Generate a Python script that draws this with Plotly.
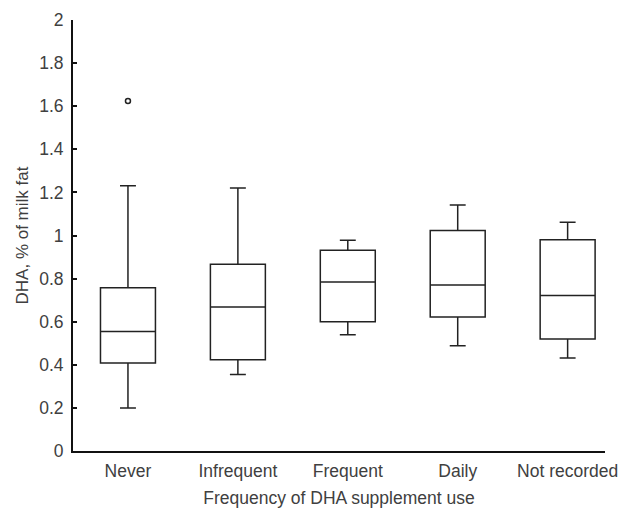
import plotly.graph_objects as go

categories = ["Never", "Infrequent", "Frequent", "Daily", "Not recorded"]
lower_whisker = [0.199, 0.355, 0.540, 0.488, 0.432]
q1_vals = [0.408, 0.424, 0.600, 0.622, 0.520]
medians = [0.555, 0.668, 0.784, 0.770, 0.722]
q3_vals = [0.758, 0.867, 0.932, 1.023, 0.980]
upper_whisker = [1.231, 1.220, 0.978, 1.142, 1.062]
outlier_cats = ["Never"]
outlier_vals = [1.624]
y_ticks = [0, 0.2, 0.4, 0.6, 0.8, 1, 1.2, 1.4, 1.6, 1.8, 2]
y_tick_labels = ["0", "0.2", "0.4", "0.6", "0.8", "1", "1.2", "1.4", "1.6", "1.8", "2"]

font_family = "Liberation Sans, Arial, sans-serif"
text_color = "#404040"

fig = go.Figure()
fig.add_trace(go.Box(
    x=categories,
    q1=q1_vals,
    median=medians,
    q3=q3_vals,
    lowerfence=lower_whisker,
    upperfence=upper_whisker,
    boxpoints=False,
    fillcolor="rgba(0,0,0,0)",
    line=dict(color="#222222", width=1.5),
    width=0.5,
    whiskerwidth=0.29,
    showlegend=False,
    hoverinfo="skip",
))
fig.add_trace(go.Scatter(
    x=outlier_cats,
    y=outlier_vals,
    mode="markers",
    marker=dict(symbol="circle-open", size=5, color="#222222", line=dict(width=1.5)),
    showlegend=False,
))

fig.update_layout(
    width=622,
    height=508,
    margin=dict(l=73, r=17, t=20, b=57),
    paper_bgcolor="white",
    plot_bgcolor="white",
    font=dict(family=font_family, size=17, color=text_color),
    xaxis=dict(
        type="category",
        categoryorder="array",
        categoryarray=categories,
        range=[-0.5, 4.34],
        automargin=False,
        showline=True,
        linecolor="#111111",
        linewidth=2,
        ticks="",
        showgrid=False,
        zeroline=False,
        ticklabelstandoff=3,
        tickfont=dict(size=17.5, color=text_color),
        title=dict(text="Frequency of DHA supplement use", font=dict(size=17.5, color=text_color), standoff=13),
    ),
    yaxis=dict(
        range=[0, 2],
        tickvals=y_ticks,
        ticktext=y_tick_labels,
        automargin=False,
        showline=True,
        linecolor="#111111",
        linewidth=2,
        ticks="inside",
        ticklen=4,
        tickwidth=2,
        tickcolor="#111111",
        showgrid=False,
        zeroline=False,
        ticklabelstandoff=4,
        tickfont=dict(size=17.5, color=text_color),
        title=dict(text="DHA, % of milk fat", font=dict(size=17, color=text_color), standoff=6),
    ),
)

fig.write_html(
    "out.html",
    config={"displayModeBar": False},
    post_script="document.body.style.margin='0';document.body.style.overflow='hidden';",
)
